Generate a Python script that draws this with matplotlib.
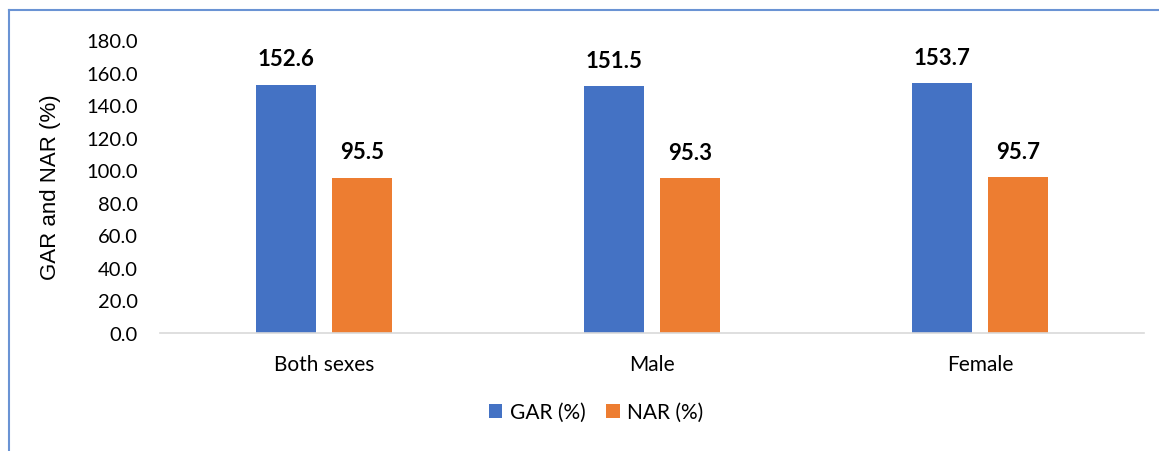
import numpy as np
import matplotlib.pyplot as plt
from matplotlib.lines import Line2D

# Data
categories = ['Both sexes', 'Male', 'Female']
gar = [152.6, 151.5, 153.7]
nar = [95.5, 95.3, 95.7]
yticks = [0, 20, 40, 60, 80, 100, 120, 140, 160, 180]

plt.rcParams['font.family'] = ['Lato', 'DejaVu Sans']

fig = plt.figure(figsize=(11.59, 4.52), dpi=100)
W, H = 1159, 452
# plot area in pixels: left 160, right 1144, top 41, bottom 334
ax = fig.add_axes([160 / W, 1 - 334 / H, (1144 - 160) / W, (334 - 41) / H])

x = np.arange(len(categories))
bw = 60 / 328
off = 38 / 328
b1 = ax.bar(x - off, gar, bw, color='#4472C4', label='GAR (%)')
b2 = ax.bar(x + off, nar, bw, color='#ED7D31', label='NAR (%)')

for bars, vals in [(b1, gar), (b2, nar)]:
    for b, v in zip(bars, vals):
        ax.annotate(f'{v:.1f}', (b.get_x() + b.get_width() / 2, v),
                    xytext=(0, 11), textcoords='offset points',
                    ha='center', va='bottom', fontsize=16, fontweight='bold')

ax.set_xlim(-0.5, 2.5)
ax.set_ylim(0, 180)
ax.set_yticks(yticks)
ax.set_yticklabels([f'{t:.1f}' for t in yticks])
ax.set_xticks(x)
ax.set_xticklabels(categories)
ax.tick_params(axis='y', length=0, pad=16, labelsize=14.5)
ax.tick_params(axis='x', length=0, pad=15, labelsize=15)
for s in ['top', 'right', 'left']:
    ax.spines[s].set_visible(False)
ax.spines['bottom'].set_color('#D9D9D9')
ax.spines['bottom'].set_linewidth(1.2)
ax.set_ylabel('GAR and NAR (%)', fontsize=16, labelpad=18,
              family=['Liberation Sans', 'DejaVu Sans'])

fig.legend(handles=[b1, b2], loc='center', bbox_to_anchor=(596 / W, 1 - 413 / H),
           ncol=2, frameon=False, fontsize=15, handlelength=0.65, handleheight=0.65,
           handletextpad=0.35, columnspacing=1.0)

# chart border (left and top edges visible)
fig.add_artist(Line2D([9 / W, 9 / W], [0, 1 - 11 / H], color='#6A93D4', lw=1.5))
fig.add_artist(Line2D([9 / W, 1], [1 - 11 / H, 1 - 11 / H], color='#6A93D4', lw=1.5))

fig.savefig('out.png', dpi=100)
